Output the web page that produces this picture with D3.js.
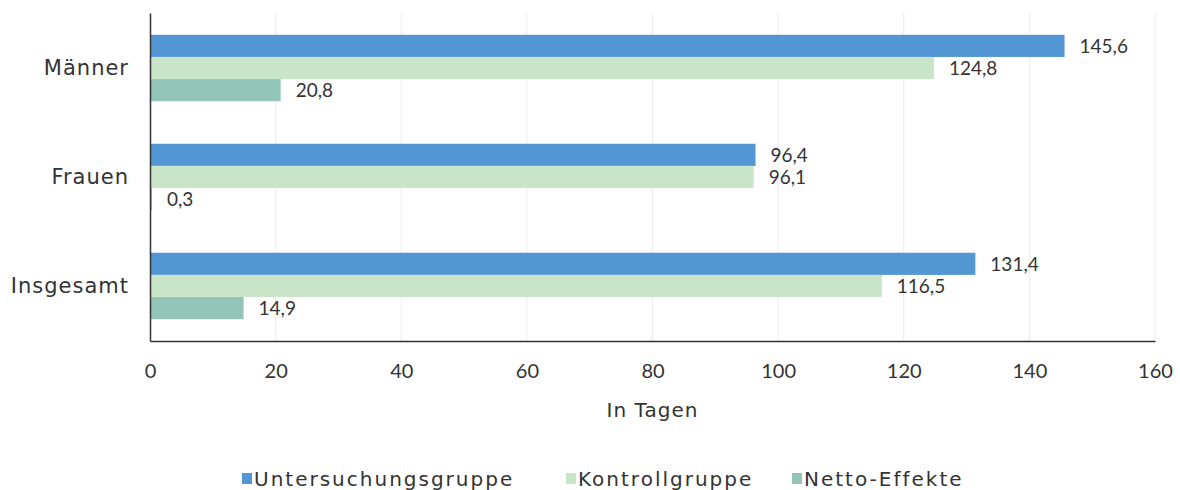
<!DOCTYPE html>
<html>
<head>
<meta charset="utf-8">
<script src="https://cdn.jsdelivr.net/npm/d3@7"></script>
<style>
  body { margin: 0; background: #fff; }
  text { fill: #333; }
  .num { font-family: "Lato", "DejaVu Sans", sans-serif; }
  .word { font-family: "DejaVu Sans", sans-serif; letter-spacing: 1px; }
  .leg { font-family: "DejaVu Sans", sans-serif; letter-spacing: 2px; }
</style>
</head>
<body>
<div id="chart"></div>
<script>
// chart data
const categories = ["Männer", "Frauen", "Insgesamt"];
const seriesNames = ["Untersuchungsgruppe", "Kontrollgruppe", "Netto-Effekte"];
const untersuchung = [145.6, 96.4, 131.4];
const kontroll = [124.8, 96.1, 116.5];
const netto = [20.8, 0.3, 14.9];
const xTicks = [0, 20, 40, 60, 80, 100, 120, 140, 160];
const colors = ["#5296d4", "#c8e5c7", "#92c4b8"];

const svgwidth = 1180;
const svgheight = 490;
var margin = {top: 13, right: 25, bottom: 149, left: 150};
var width = svgwidth - margin.left - margin.right;
var height = svgheight - margin.top - margin.bottom;

var svg = d3.select("#chart")
  .append("svg")
  .attr("width", svgwidth)
  .attr("height", svgheight);

var g = svg.append("g")
  .attr("transform", `translate(${margin.left}, ${margin.top})`);

// german number format
var de = d3.formatLocale({decimal: ",", thousands: ".", grouping: [3], currency: ["", " €"]});
var fmt = de.format(".1f");

var x = d3.scaleLinear().domain([0, 160]).range([0, width]);
var y = d3.scaleBand().domain(categories).range([0, height]).paddingInner(0.39).paddingOuter(0.2);
var sub = d3.scaleBand().domain(seriesNames).range([0, y.bandwidth()]);

// gridlines
g.selectAll(".grid")
  .data(xTicks.slice(1))
  .enter()
  .append("line")
  .attr("x1", d => x(d)).attr("x2", d => x(d))
  .attr("y1", 0).attr("y2", height)
  .attr("stroke", "#ececec")
  .attr("stroke-width", 1);

// bars
var rows = categories.map((c, i) => ({
  cat: c,
  vals: [untersuchung[i], kontroll[i], netto[i]]
}));

rows.forEach(function(r) {
  r.vals.forEach(function(v, j) {
    var yy = y(r.cat) + sub(seriesNames[j]);
    g.append("rect")
      .attr("x", x(0))
      .attr("y", yy)
      .attr("width", x(v) - x(0))
      .attr("height", sub.bandwidth())
      .attr("fill", colors[j]);
    g.append("text")
      .attr("class", "num")
      .attr("x", x(v) + 15)
      .attr("y", yy + sub.bandwidth() / 2 + 2)
      .attr("dominant-baseline", "middle")
      .style("font-size", "19px")
      .text(fmt(v));
  });
});

// axes
var bottom = d3.axisBottom(x).tickValues(xTicks).tickSize(0).tickPadding(23).tickFormat(d3.format("d"));
var gx = g.append("g")
  .attr("transform", `translate(0, ${height})`)
  .call(bottom);
gx.select(".domain").attr("stroke", "#333").attr("stroke-width", 1.5);
gx.selectAll("text").attr("class", "num").style("font-size", "20px").attr("fill", "#333");

var left = d3.axisLeft(y).tickSize(0).tickPadding(21);
var gy = g.append("g").call(left);
gy.select(".domain").attr("stroke", "#333").attr("stroke-width", 1.5);
gy.selectAll("text").attr("class", "word").style("font-size", "21px").attr("fill", "#333");

// axis title
svg.append("text")
  .attr("class", "word")
  .attr("x", margin.left + width / 2)
  .attr("y", 417)
  .attr("text-anchor", "middle")
  .style("font-size", "20px")
  .text("In Tagen");

// legend
var legendX = [242, 566, 792];
var legend = svg.selectAll(".legend")
  .data(seriesNames)
  .enter()
  .append("g")
  .attr("transform", (d, i) => `translate(${legendX[i]}, 473)`);
legend.append("rect")
  .attr("width", 10).attr("height", 11)
  .attr("fill", (d, i) => colors[i]);
legend.append("text")
  .attr("class", "leg")
  .attr("x", 12).attr("y", 13)
  .style("font-size", "20px")
  .text(d => d);
</script>
</body>
</html>
